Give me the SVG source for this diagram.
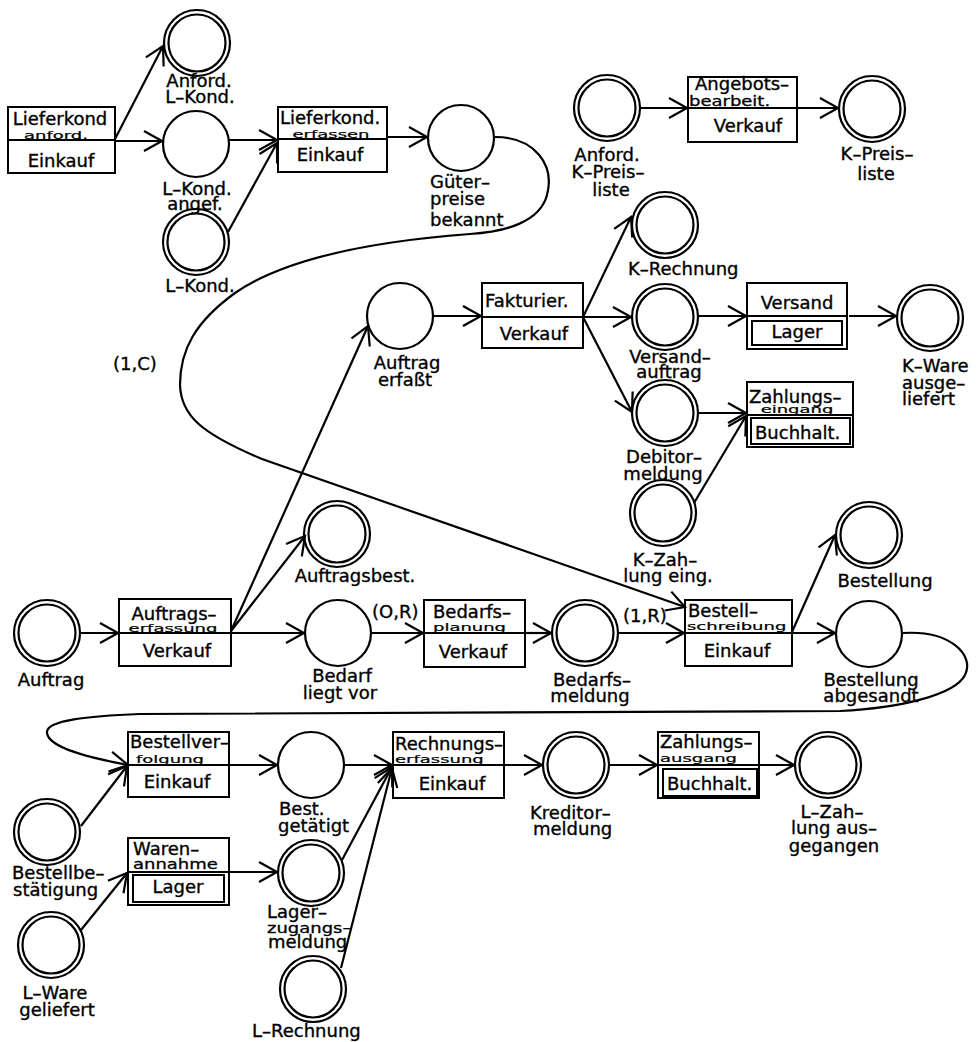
<svg xmlns="http://www.w3.org/2000/svg" width="978" height="1042" viewBox="0 0 978 1042">
<style>
.pl{fill:none;stroke:#000;stroke-width:2.2}
.bx{fill:none;stroke:#000;stroke-width:2}
.cn{fill:none;stroke:#000;stroke-width:2.2;marker-end:url(#ah)}
text{font-family:"DejaVu Sans","Liberation Sans",sans-serif;font-size:18px;fill:#000;stroke:#000;stroke-width:0.35}
.m{text-anchor:middle}
</style>
<defs>
<marker id="ah" markerUnits="userSpaceOnUse" viewBox="-22 -13 24 26" refX="0" refY="0" markerWidth="24" markerHeight="26" orient="auto" overflow="visible">
<path d="M-18,-10 L0,0 L-18,10" fill="none" stroke="#000" stroke-width="2.2"/>
</marker>
</defs>
<rect width="978" height="1042" fill="#fff"/>

<g id="connectors">
<path class="cn" d="M115 139 L163 46"/>
<path class="cn" d="M115 141 L162 141"/>
<path class="cn" d="M229 140 L277 140"/>
<path class="cn" d="M228 232 L277 143"/>
<path class="cn" d="M387 137 L427 137"/>
<path class="cn" d="M640 108 L687 108"/>
<path class="cn" d="M797 108 L838 108"/>
<path class="cn" d="M495 137 C535 137,555 165,547 195 C540 222,505 232,470 234 C390 240,290 255,235 293 C195 322,180 350,180 385 C181 415,200 433,262 459 L685 607"/>
<path class="cn" d="M433 316 L481 316"/>
<path class="cn" d="M583 317 L631 217"/>
<path class="cn" d="M583 317 L631 317"/>
<path class="cn" d="M583 317 L632 412"/>
<path class="cn" d="M698 316 L746 316"/>
<path class="cn" d="M849 316 L896 316"/>
<path class="cn" d="M698 413 L746 413"/>
<path class="cn" d="M694 503 L746 416"/>
<path class="cn" d="M80 633 L118 633"/>
<path class="cn" d="M231 631 L368 326"/>
<path class="cn" d="M231 631 L305 536"/>
<path class="cn" d="M231 633 L304 633"/>
<path class="cn" d="M371 633 L423 633"/>
<path class="cn" d="M525 633 L551 633"/>
<path class="cn" d="M618 633 L684 633"/>
<path class="cn" d="M792 632 L835 535"/>
<path class="cn" d="M792 633 L835 633"/>
<path class="cn" d="M903 633 C950 630,975 655,965 675 C955 695,900 708,840 711 L140 714 C90 716,45 720,47 733 C49 748,90 758,128 765"/>
<path class="cn" d="M81 826 L127 766"/>
<path class="cn" d="M229 765 L277 765"/>
<path class="cn" d="M81 930 L127 873"/>
<path class="cn" d="M229 872 L277 872"/>
<path class="cn" d="M344 765 L392 765"/>
<path class="cn" d="M342 860 L392 767"/>
<path class="cn" d="M341 968 L392 768"/>
<path class="cn" d="M504 765 L542 765"/>
<path class="cn" d="M609 765 L657 765"/>
<path class="cn" d="M759 765 L794 765"/>
<text x="113" y="370">(1,C)</text>
<text x="372" y="618">(O,R)</text>
<text x="623" y="622">(1,R)</text>
</g>

<!-- places -->
<g id="p-anford-lkond"><circle class="pl" cx="197" cy="43" r="33"/><circle class="pl" cx="197" cy="43" r="28.5"/><text class="m" x="199" y="87">Anford.</text><text class="m" x="200" y="103">L–Kond.</text></g>
<g id="p-lkond-angef"><circle class="pl" cx="196" cy="144" r="33"/><text class="m" x="197" y="195">L–Kond.</text><text class="m" x="195" y="210">angef.</text></g>
<g id="p-lkond"><circle class="pl" cx="196" cy="242" r="33"/><circle class="pl" cx="196" cy="242" r="28.5"/><text class="m" x="200" y="292">L–Kond.</text></g>
<g id="p-gueterpreise"><circle class="pl" cx="461" cy="138" r="33"/><text x="430" y="188">Güter–</text><text x="430" y="205">preise</text><text x="430" y="226">bekannt</text></g>
<g id="p-anford-kpreis"><circle class="pl" cx="607" cy="108" r="33"/><circle class="pl" cx="607" cy="108" r="28.5"/><text class="m" x="607" y="161">Anford.</text><text class="m" x="608" y="178">K–Preis–</text><text class="m" x="611" y="196">liste</text></g>
<g id="p-kpreisliste"><circle class="pl" cx="872" cy="109" r="33"/><circle class="pl" cx="872" cy="109" r="28.5"/><text class="m" x="877" y="160">K–Preis–</text><text class="m" x="876" y="180">liste</text></g>
<g id="p-krechnung"><circle class="pl" cx="665" cy="225" r="33"/><circle class="pl" cx="665" cy="225" r="28.5"/><text x="628" y="275">K–Rechnung</text></g>
<g id="p-auftrag-erfasst"><circle class="pl" cx="400" cy="316" r="33"/><text class="m" x="407" y="369">Auftrag</text><text class="m" x="405" y="386">erfaßt</text></g>
<g id="p-versandauftrag"><circle class="pl" cx="665" cy="317" r="33"/><circle class="pl" cx="665" cy="317" r="28.5"/><text class="m" x="670" y="363">Versand–</text><text class="m" x="669" y="378">auftrag</text></g>
<g id="p-kware"><circle class="pl" cx="930" cy="318" r="33"/><circle class="pl" cx="930" cy="318" r="28.5"/><text x="902" y="372">K–Ware</text><text x="902" y="389">ausge–</text><text x="902" y="405">liefert</text></g>
<g id="p-debitor"><circle class="pl" cx="665" cy="413" r="33"/><circle class="pl" cx="665" cy="413" r="28.5"/><text class="m" x="664" y="463">Debitor–</text><text class="m" x="663" y="480">meldung</text></g>
<g id="p-kzahlung"><circle class="pl" cx="663" cy="513" r="33"/><circle class="pl" cx="663" cy="513" r="28.5"/><text class="m" x="665" y="566">K–Zah–</text><text class="m" x="668" y="582">lung eing.</text></g>
<g id="p-bestellung"><circle class="pl" cx="869" cy="535" r="33"/><circle class="pl" cx="869" cy="535" r="28.5"/><text class="m" x="885" y="587">Bestellung</text></g>
<g id="p-bestellung-abgesandt"><circle class="pl" cx="869" cy="634" r="33"/><text class="m" x="871" y="686">Bestellung</text><text class="m" x="871" y="702">abgesandt</text></g>
<g id="p-auftrag"><circle class="pl" cx="47" cy="633" r="33"/><circle class="pl" cx="47" cy="633" r="28.5"/><text class="m" x="51" y="686">Auftrag</text></g>
<g id="p-auftragsbest"><circle class="pl" cx="337" cy="534" r="33"/><circle class="pl" cx="337" cy="534" r="28.5"/><text class="m" x="355" y="582">Auftragsbest.</text></g>
<g id="p-bedarf"><circle class="pl" cx="338" cy="633" r="33"/><text class="m" x="342" y="682">Bedarf</text><text class="m" x="340" y="699">liegt vor</text></g>
<g id="p-bedarfsmeldung"><circle class="pl" cx="585" cy="633" r="33"/><circle class="pl" cx="585" cy="633" r="28.5"/><text class="m" x="592" y="686">Bedarfs–</text><text class="m" x="590" y="702">meldung</text></g>
<g id="p-bestellbestaetigung"><circle class="pl" cx="47" cy="832" r="33"/><circle class="pl" cx="47" cy="832" r="28.5"/><text x="12" y="879">Bestellbe–</text><text x="13" y="896">stätigung</text></g>
<g id="p-lware"><circle class="pl" cx="51" cy="945" r="33"/><circle class="pl" cx="51" cy="945" r="28.5"/><text class="m" x="55" y="999">L–Ware</text><text class="m" x="57" y="1016">geliefert</text></g>
<g id="p-best-getaetigt"><circle class="pl" cx="311" cy="765" r="33"/><text x="279" y="815">Best.</text><text x="278" y="832">getätigt</text></g>
<g id="p-lagerzugang"><circle class="pl" cx="311" cy="873" r="33"/><circle class="pl" cx="311" cy="873" r="28.5"/><text x="267" y="918">Lager–</text><text transform="translate(267,933) scale(1,0.75)">zugangs–</text><text x="268" y="948">meldung</text></g>
<g id="p-lrechnung"><circle class="pl" cx="313" cy="989" r="33"/><circle class="pl" cx="313" cy="989" r="28.5"/><text x="252" y="1037">L–Rechnung</text></g>
<g id="p-kreditor"><circle class="pl" cx="576" cy="765" r="33"/><circle class="pl" cx="576" cy="765" r="28.5"/><text x="530" y="819">Kreditor–</text><text x="533" y="835">meldung</text></g>
<g id="p-lzahlung"><circle class="pl" cx="828" cy="765" r="33"/><circle class="pl" cx="828" cy="765" r="28.5"/><text class="m" x="832" y="818">L–Zah–</text><text class="m" x="834" y="834">lung aus–</text><text class="m" x="834" y="852">gegangen</text></g>

<!-- transitions -->
<g id="t-lieferkond-anford"><rect class="bx" x="8" y="107" width="107" height="66"/><line class="bx" x1="8" y1="140" x2="115" y2="140"/><text class="m" x="60" y="125">Lieferkond</text><text class="m" transform="translate(56,139) scale(1,0.6)">anford.</text><text class="m" x="61" y="167">Einkauf</text></g>
<g id="t-lieferkond-erfassen"><rect class="bx" x="278" y="107" width="109" height="65"/><line class="bx" x1="278" y1="139" x2="387" y2="139"/><text x="280" y="124">Lieferkond.</text><text class="m" transform="translate(331,138) scale(1,0.6)">erfassen</text><text class="m" x="330" y="161">Einkauf</text></g>
<g id="t-angebot"><rect class="bx" x="688" y="77" width="109" height="65"/><line class="bx" x1="688" y1="108" x2="797" y2="108"/><text x="695" y="90">Angebots–</text><text transform="translate(689,106) scale(1,0.75)">bearbeit.</text><text class="m" x="748" y="132">Verkauf</text></g>
<g id="t-fakturier"><rect class="bx" x="482" y="283" width="101" height="65"/><line class="bx" x1="482" y1="317" x2="583" y2="317"/><text x="485" y="307">Fakturier.</text><text class="m" x="534" y="340">Verkauf</text></g>
<g id="t-versand"><rect class="bx" x="747" y="283" width="100" height="66"/><line class="bx" x1="747" y1="316" x2="847" y2="316"/><rect class="bx" x="752" y="321" width="90" height="24"/><text class="m" x="797" y="309">Versand</text><text class="m" x="797" y="338">Lager</text></g>
<g id="t-zahlungseingang"><rect class="bx" x="747" y="382" width="106" height="65"/><line class="bx" x1="747" y1="415" x2="853" y2="415"/><rect class="bx" x="751" y="418" width="99" height="26"/><text x="749" y="403">Zahlungs–</text><text class="m" transform="translate(797,413) scale(1,0.55)">eingang</text><text x="755" y="439">Buchhalt.</text></g>
<g id="t-auftragserfassung"><rect class="bx" x="119" y="599" width="112" height="67"/><line class="bx" x1="119" y1="633" x2="231" y2="633"/><text class="m" x="174" y="620">Auftrags–</text><text class="m" transform="translate(173,632) scale(1,0.6)">erfassung</text><text class="m" x="177" y="657">Verkauf</text></g>
<g id="t-bedarfsplanung"><rect class="bx" x="424" y="600" width="101" height="67"/><line class="bx" x1="424" y1="633" x2="525" y2="633"/><text x="433" y="618">Bedarfs–</text><text transform="translate(433,631) scale(1,0.6)">planung</text><text class="m" x="473" y="658">Verkauf</text></g>
<g id="t-bestellschreibung"><rect class="bx" x="685" y="600" width="107" height="66"/><line class="bx" x1="685" y1="633" x2="792" y2="633"/><text x="688" y="617">Bestell–</text><text transform="translate(687,630) scale(1,0.6)">schreibung</text><text class="m" x="737" y="657">Einkauf</text></g>
<g id="t-bestellverfolgung"><rect class="bx" x="128" y="732" width="101" height="65"/><line class="bx" x1="128" y1="765" x2="229" y2="765"/><text x="130" y="748">Bestellver–</text><text class="m" transform="translate(170,763) scale(1,0.6)">folgung</text><text class="m" x="177" y="788">Einkauf</text></g>
<g id="t-warenannahme"><rect class="bx" x="128" y="838" width="101" height="67"/><line class="bx" x1="128" y1="872" x2="229" y2="872"/><rect class="bx" x="133" y="875" width="91" height="27"/><text x="133" y="855">Waren–</text><text transform="translate(133,869) scale(1,0.8)">annahme</text><text class="m" x="178" y="893">Lager</text></g>
<g id="t-rechnungserfassung"><rect class="bx" x="393" y="732" width="111" height="66"/><line class="bx" x1="393" y1="765" x2="504" y2="765"/><text x="395" y="750">Rechnungs–</text><text transform="translate(395,763) scale(1,0.6)">erfassung</text><text class="m" x="452" y="790">Einkauf</text></g>
<g id="t-zahlungsausgang"><rect class="bx" x="658" y="732" width="101" height="66"/><line class="bx" x1="658" y1="765" x2="759" y2="765"/><rect class="bx" x="663" y="769" width="94" height="27"/><text x="660" y="748">Zahlungs–</text><text transform="translate(660,762) scale(1,0.6)">ausgang</text><text x="667" y="790">Buchhalt.</text></g>
</svg>
